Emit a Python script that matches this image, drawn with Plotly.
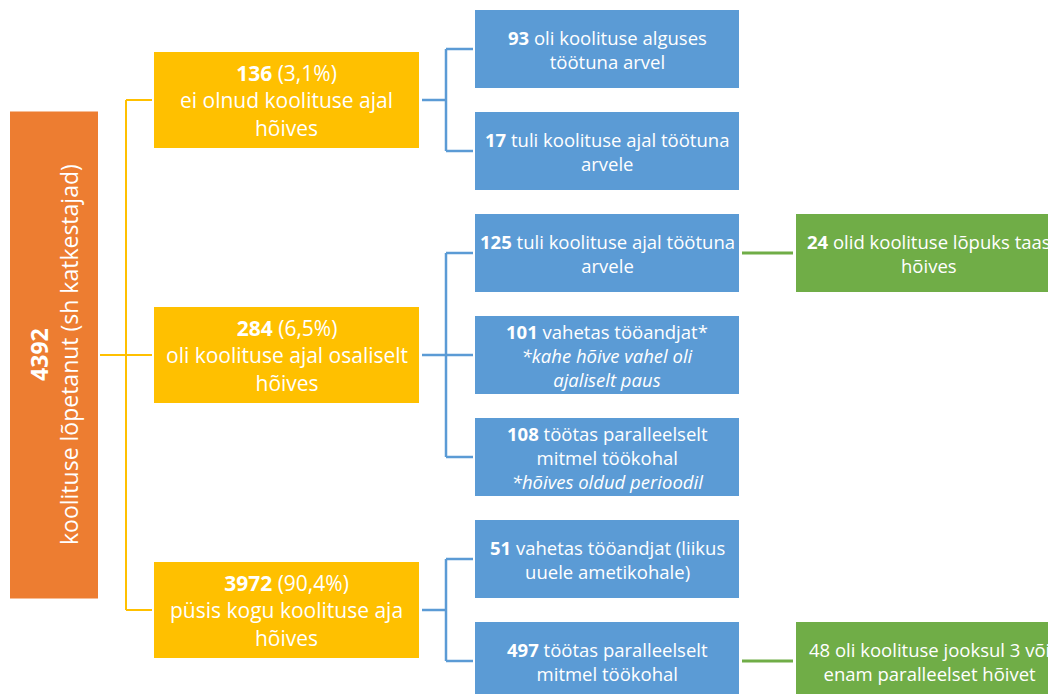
import plotly.graph_objects as go

# ---------------- data ----------------
total_count = 4392
total_label = "koolituse lõpetanut (sh katkestajad)"

l1_counts = [136, 284, 3972]
l1_pct = ["3,1%", "6,5%", "90,4%"]
l1_labels = ["ei olnud koolituse ajal<br>hõives",
             "oli koolituse ajal osaliselt<br>hõives",
             "püsis kogu koolituse aja<br>hõives"]

l2_counts = [93, 17, 125, 101, 108, 51, 497]
l2_labels = ["oli koolituse alguses<br>töötuna arvel",
             "tuli koolituse ajal töötuna<br>arvele",
             "tuli koolituse ajal töötuna<br>arvele",
             "vahetas tööandjat*<br><i>*kahe hõive vahel oli<br>ajaliselt paus</i>",
             "töötas paralleelselt<br>mitmel töökohal<br><i>*hõives oldud perioodil</i>",
             "vahetas tööandjat (liikus<br>uuele ametikohale)",
             "töötas paralleelselt<br>mitmel töökohal"]
l2_parent = [0, 0, 1, 1, 1, 2, 2]

l3_counts = [24, 48]
l3_labels = ["olid koolituse lõpuks taas<br>hõives",
             "oli koolituse jooksul 3 või<br>enam paralleelset hõivet"]
l3_bold = [True, False]
l3_parent = [2, 6]

# ---------------- style / layout ----------------
W, H = 1048, 694
FONT = "Open Sans"
C_ORANGE = "#ED7D31"
C_YELLOW = "#FFC000"
C_BLUE = "#5B9BD5"
C_GREEN = "#70AD47"

COL = {0: (10, 98), 1: (154, 419), 2: (475, 739), 3: (796, 1062)}
ROW0, ROWSTEP = 49, 102
H_ORANGE, H_YELLOW, H_BLUE = 487, 96, 78

fig = go.Figure()
fig.add_trace(go.Scatter(x=[0], y=[0], mode="markers", marker=dict(opacity=0),
                         hoverinfo="skip", showlegend=False))

shapes, annos = [], []


def box(col, yc, h, color):
    x0, x1 = COL[col]
    shapes.append(dict(type="rect", xref="x", yref="y", x0=x0, x1=x1,
                       y0=yc - h / 2, y1=yc + h / 2, fillcolor=color,
                       line=dict(width=0), layer="below"))


def text(col, yc, s, size, angle=0, xc=None):
    x0, x1 = COL[col]
    annos.append(dict(xref="x", yref="y", x=xc if xc is not None else (x0 + x1) / 2,
                      y=yc, text=s, showarrow=False, textangle=angle,
                      font=dict(family=FONT, size=size, color="white"),
                      xanchor="center", yanchor="middle", align="center"))


def line(xa, ya, xb, yb, color, w):
    shapes.append(dict(type="line", xref="x", yref="y", x0=xa, y0=ya, x1=xb, y1=yb,
                       line=dict(color=color, width=w)))


# level 2 centres
l2_y = [ROW0 + ROWSTEP * i for i in range(len(l2_counts))]
# level 1 centres = mean of children
l1_y = []
for p in range(len(l1_counts)):
    ch = [l2_y[i] for i in range(len(l2_counts)) if l2_parent[i] == p]
    l1_y.append(sum(ch) / len(ch))
root_y = sum(l1_y) / len(l1_y)

# root
box(0, root_y, H_ORANGE, C_ORANGE)
text(0, root_y, f"<b>{total_count}</b><br>{total_label}", 23, angle=-90)

# connectors root -> l1
xr = COL[0][1]
xv1 = 126
line(xr + 2, root_y, xv1, root_y, C_YELLOW, 2)
line(xv1, min(l1_y), xv1, max(l1_y), C_YELLOW, 2)
for y in l1_y:
    line(xv1, y, COL[1][0] - 2, y, C_YELLOW, 2)

# level 1
for i, y in enumerate(l1_y):
    box(1, y, H_YELLOW, C_YELLOW)
    text(1, y, f"<b>{l1_counts[i]}</b> ({l1_pct[i]})<br>{l1_labels[i]}", 21)

# connectors l1 -> l2
xv2 = 446
for p, py in enumerate(l1_y):
    ch = [l2_y[i] for i in range(len(l2_counts)) if l2_parent[i] == p]
    line(COL[1][1] + 3, py, xv2, py, C_BLUE, 2.5)
    line(xv2, min(ch), xv2, max(ch), C_BLUE, 2.5)
    for y in ch:
        line(xv2, y, COL[2][0] - 2, y, C_BLUE, 2.5)

# level 2
for i, y in enumerate(l2_y):
    box(2, y, H_BLUE, C_BLUE)
    text(2, y, f"<b>{l2_counts[i]}</b> {l2_labels[i]}", 18.5)

# level 3
for j, p in enumerate(l3_parent):
    y = l2_y[p]
    line(COL[2][1] + 3, y, COL[3][0] - 3, y, C_GREEN, 3)
    box(3, y, H_BLUE, C_GREEN)
    num = f"<b>{l3_counts[j]}</b>" if l3_bold[j] else f"{l3_counts[j]}"
    text(3, y, f"{num} {l3_labels[j]}", 18.5)

fig.update_layout(
    width=W, height=H, margin=dict(l=0, r=0, t=0, b=0),
    paper_bgcolor="white", plot_bgcolor="white",
    xaxis=dict(range=[0, W], visible=False, fixedrange=True),
    yaxis=dict(range=[H, 0], visible=False, fixedrange=True),
    shapes=shapes, annotations=annos, showlegend=False,
)
fig.write_html("out.html", config={"displayModeBar": False},
               post_script="document.body.style.margin='0';document.body.style.overflow='hidden';")
